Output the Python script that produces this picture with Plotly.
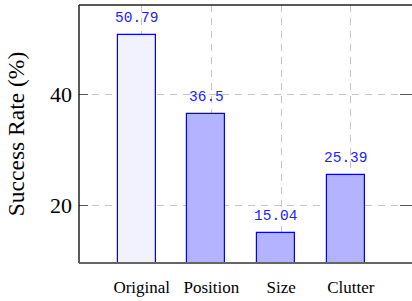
import plotly.graph_objects as go

categories = ["Original", "Position", "Size", "Clutter"]
success_rate = [50.79, 36.5, 15.04, 25.39]
value_labels = ["50.79", "36.5", "15.04", "25.39"]
bar_fills = ["#f2f2ff", "#b3b3ff", "#b3b3ff", "#b3b3ff"]
y_ticks = [20, 40]

pos = list(range(len(categories)))
bar_w = 0.545
shift = -0.072

fig = go.Figure()
fig.add_trace(go.Bar(
    x=pos, y=success_rate,
    width=bar_w, offset=shift - bar_w / 2,
    marker=dict(color=bar_fills, line=dict(color="#0000ff", width=1.2)),
    showlegend=False, hoverinfo="skip",
))
# dummy trace on right axis for mirrored ticks
fig.add_trace(go.Scatter(x=[pos[0]], y=[success_rate[0]], yaxis="y2", mode="none",
                         showlegend=False, hoverinfo="skip"))

annotations = []
for p, v, t in zip(pos, success_rate, value_labels):
    annotations.append(dict(
        x=p + shift, y=v, xref="x", yref="y", text=t, showarrow=False,
        yanchor="bottom", yshift=7,
        font=dict(family="Liberation Mono", size=14.5, color="#2222ff"),
    ))

grid_color = "#c4c4c4"
fig.update_layout(
    width=412, height=301,
    margin=dict(l=79, r=0, t=5, b=38),
    plot_bgcolor="white", paper_bgcolor="white",
    annotations=annotations,
    bargap=0,
    xaxis=dict(
        range=[-0.9, 3.878], tickvals=pos, ticktext=categories,
        showgrid=True, gridcolor=grid_color, griddash="6.5px,6.5px", gridwidth=1,
        zeroline=False, showline=False, ticks="",
        tickfont=dict(family="Liberation Serif", size=17, color="black"),
        ticklabelstandoff=12, automargin=False,
    ),
    yaxis=dict(
        range=[9.6, 56.14], tickvals=y_ticks,
        showgrid=True, gridcolor=grid_color, griddash="6.5px,6.5px", gridwidth=1,
        zeroline=False, showline=False,
        ticks="inside", ticklen=9, tickcolor="#555555", tickwidth=1.2,
        tickfont=dict(family="Liberation Serif", size=22, color="black"),
        ticklabelstandoff=6, automargin=False,
        title=dict(text="Success Rate (%)", standoff=18,
                   font=dict(family="Liberation Serif", size=23.5, color="black")),
    ),
    yaxis2=dict(
        range=[9.6, 56.14], tickvals=y_ticks, overlaying="y", side="right",
        showgrid=False, zeroline=False, showline=False, showticklabels=False,
        ticks="inside", ticklen=12, tickcolor="#555555", tickwidth=1.2,
        automargin=False,
    ),
    shapes=[
        dict(type="line", xref="paper", yref="paper", x0=0, x1=0, y0=0, y1=1,
             line=dict(color="black", width=1.3)),
        dict(type="line", xref="paper", yref="paper", x0=0, x1=1, y0=1, y1=1,
             line=dict(color="#222222", width=1.6)),
        dict(type="line", xref="paper", yref="paper", x0=0, x1=1, y0=0, y1=0,
             line=dict(color="#666666", width=2)),
    ],
)

fig.write_html(
    "out.html",
    config={"displayModeBar": False},
    post_script="document.body.style.margin='0';document.body.style.overflow='hidden';",
)
